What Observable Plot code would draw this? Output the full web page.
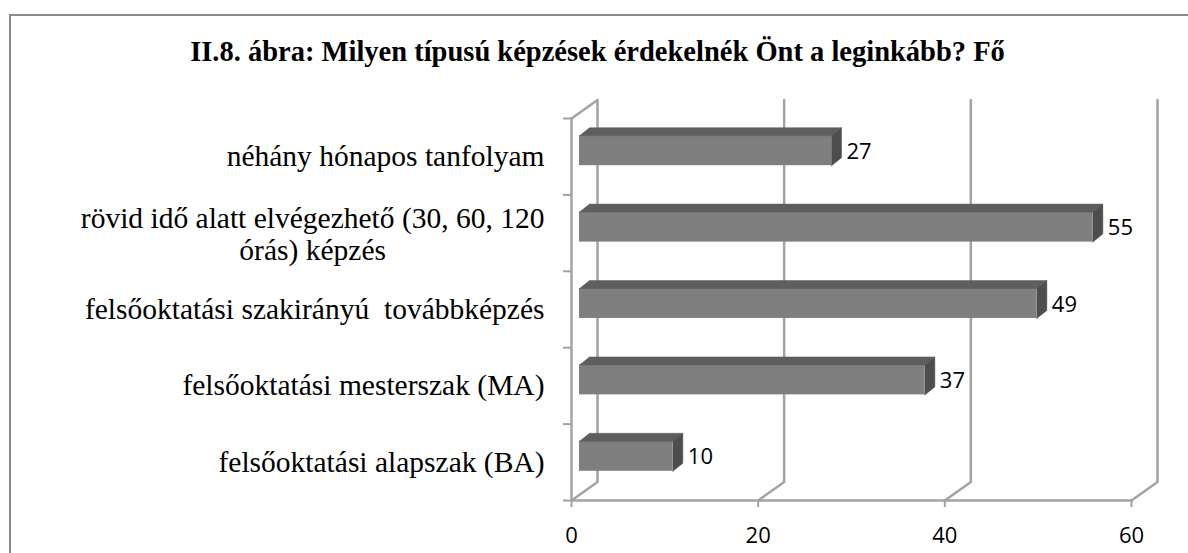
<!DOCTYPE html>
<html>
<head>
<meta charset="utf-8">
<script src="https://cdn.jsdelivr.net/npm/d3@7"></script>
<script src="https://cdn.jsdelivr.net/npm/@observablehq/plot@0.6"></script>
<style>
html, body { margin: 0; padding: 0; background: #fff; }
#wrap { position: relative; width: 1188px; height: 553px; overflow: hidden; background: #fff; }
#frame { position: absolute; left: 9px; top: 14px; width: 1400px; height: 800px;
  border-left: 2px solid #8c8c8c; border-top: 2px solid #8c8c8c; pointer-events: none; }
#title { position: absolute; left: 0; width: 1195px; top: 38px; text-align: center;
  font: bold 28.5px "Liberation Serif", "Times New Roman", serif; line-height: 28px;
  color: #000; white-space: nowrap; }
#chart { position: absolute; left: 0; top: 0; }
</style>
</head>
<body>
<div id="wrap">
  <div id="frame"></div>
  <div id="title">II.8. ábra: Milyen típusú képzések érdekelnék Önt a leginkább? Fő</div>
  <div id="chart"></div>
</div>
<script>
// ---- data (top to bottom as shown) ----
const categories = [
  "néhány hónapos tanfolyam",
  "rövid idő alatt elvégezhető (30, 60, 120\nórás) képzés",
  "felsőoktatási szakirányú  továbbképzés",
  "felsőoktatási mesterszak (MA)",
  "felsőoktatási alapszak (BA)"
];
const values = [27, 55, 49, 37, 10];
const xTicks = [0, 20, 40, 60];
const xMax = 60;

// ---- layout ----
const W = 1188, H = 553;
const mL = 571, mR = 57, mT = 118, mB = 53;
const nCat = categories.length;
const kx = (W - mL - mR) / xMax;        // px per x unit
const ky = (H - mT - mB) / nCat;        // px per category band
const wallDX = 26 / kx, wallDY = 18.5 / ky;   // back wall depth (data units)
const barDX = 10 / kx, barDY = 8 / ky;        // bar depth (data units)
const barOffX = 8, barOffY = -6;              // bar front plane offset (px)
const halfH = 15 / ky;                        // half bar front height

const rows = categories.map((c, i) => ({cat: c, value: values[i], k: nCat - 1 - i}));

// grid polylines (back wall verticals + floor diagonals)
const gridPts = xTicks.flatMap(t => {
  const p = [];
  if (t === 0) p.push({t, x: 0, y: nCat});
  p.push({t, x: t + wallDX, y: nCat + wallDY});
  p.push({t, x: t + wallDX, y: wallDY});
  p.push({t, x: t, y: 0});
  return p;
});
const frontAxis = [{x: 0, y: nCat}, {x: 0, y: 0}, {x: xMax, y: 0}];

// bar faces
const topPts = rows.flatMap(r => {
  const yt = r.k + 0.5 + halfH;
  return [
    {k: r.k, x: 0, y: yt}, {k: r.k, x: r.value, y: yt},
    {k: r.k, x: r.value + barDX, y: yt + barDY}, {k: r.k, x: barDX, y: yt + barDY},
    {k: r.k, x: 0, y: yt}
  ];
});
const sidePts = rows.flatMap(r => {
  const yt = r.k + 0.5 + halfH, yb = r.k + 0.5 - halfH;
  return [
    {k: r.k, x: r.value, y: yb}, {k: r.k, x: r.value, y: yt},
    {k: r.k, x: r.value + barDX, y: yt + barDY}, {k: r.k, x: r.value + barDX, y: yb + barDY},
    {k: r.k, x: r.value, y: yb}
  ];
});

// category labels (multi-line labels are centred as a block)
const catFont = '"Liberation Serif", "Times New Roman", serif';
const catSize = 29.5;
const ctx = document.createElement("canvas").getContext("2d");
ctx.font = `${catSize}px ${catFont}`;
const labelGap = 27;
const lineStep = 32;
const labelMarks = rows.flatMap(r => {
  const lines = r.cat.split("\n");
  if (lines.length === 1) {
    return [Plot.text([r], {x: () => 0, y: d => d.k + 0.5, text: () => lines[0],
      textAnchor: "end", dx: -labelGap, fontFamily: catFont, fontSize: catSize, fill: "#000"})];
  }
  const blockW = d3.max(lines, l => ctx.measureText(l).width);
  return lines.map((l, j) => Plot.text([r], {x: () => 0, y: d => d.k + 0.5, text: () => l,
    textAnchor: "middle", dx: -labelGap - blockW / 2, dy: (j - (lines.length - 1) / 2) * lineStep + 1,
    fontFamily: catFont, fontSize: catSize, fill: "#000"}));
});

const numFont = '"Open Sans", "Liberation Sans", sans-serif';
const gridColor = "#a3a3a3";

const chart = Plot.plot({
  width: W, height: H,
  marginLeft: mL, marginRight: mR, marginTop: mT, marginBottom: mB,
  x: {domain: [0, xMax], axis: null},
  y: {domain: [0, nCat], axis: null},
  style: {background: "transparent", overflow: "visible"},
  marks: [
    Plot.line(gridPts, {x: "x", y: "y", z: "t", stroke: gridColor, strokeWidth: 2.5}),
    Plot.line(frontAxis, {x: "x", y: "y", stroke: gridColor, strokeWidth: 2.5}),
    Plot.ruleY(d3.range(nCat + 1), {y: d => d, x1: () => -8 / kx, x2: () => 0, stroke: gridColor, strokeWidth: 2}),
    Plot.ruleX(xTicks, {x: d => d, y1: () => 0, y2: () => -7 / ky, stroke: gridColor, strokeWidth: 2}),
    // bars
    Plot.rect(rows, {x1: () => 0, x2: "value", y1: d => d.k + 0.5 - halfH, y2: d => d.k + 0.5 + halfH,
      dx: barOffX, dy: barOffY, fill: "#7f7f7f"}),
    Plot.line(topPts, {x: "x", y: "y", z: "k", fill: "#5e5e5e", stroke: "#5e5e5e", strokeWidth: 0.5,
      dx: barOffX, dy: barOffY}),
    Plot.line(sidePts, {x: "x", y: "y", z: "k", fill: "#4d4d4d", stroke: "#4d4d4d", strokeWidth: 0.5,
      dx: barOffX, dy: barOffY}),
    // value labels
    Plot.text(rows, {x: "value", y: d => d.k + 0.5, text: d => String(d.value), textAnchor: "start",
      dx: barOffX + 10 + 5, dy: barOffY + 1, fontFamily: numFont, fontSize: 22, fill: "#000"}),
    // x tick labels
    Plot.text(xTicks, {x: d => d, y: () => 0, text: d => String(d), textAnchor: "middle",
      dy: 35, fontFamily: numFont, fontSize: 22, fill: "#000"}),
    ...labelMarks
  ]
});
document.getElementById("chart").appendChild(chart);
</script>
</body>
</html>
